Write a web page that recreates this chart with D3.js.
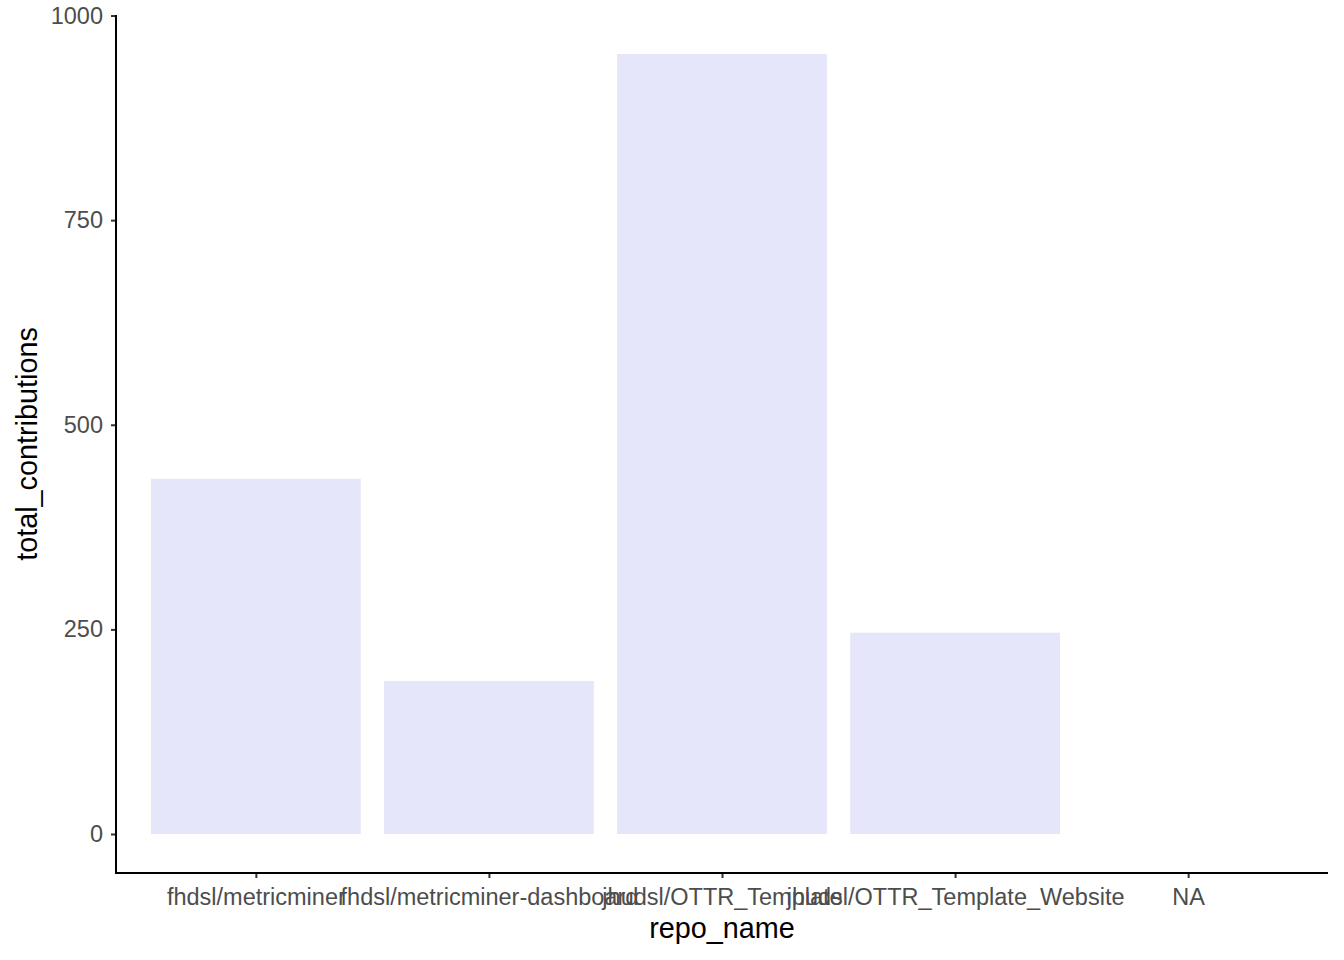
<!DOCTYPE html>
<html>
<head>
<meta charset="utf-8">
<script src="https://cdn.jsdelivr.net/npm/d3@7"></script>
<style>
  body { margin: 0; background: #fff; }
  svg { display: block; font-family: "Liberation Sans", Arial, sans-serif; }
</style>
</head>
<body>
<div id="chart"></div>
<script>
// repo names and their total contributions (NA has no value)
var repoNames = ["fhdsl/metricminer", "fhdsl/metricminer-dashboard", "jhudsl/OTTR_Template", "jhudsl/OTTR_Template_Website", "NA"];
var totalContributions = [434, 187, 953, 246, null];
var yTicks = [0, 250, 500, 750, 1000];

var width = 1344, height = 960;
var panel = {left: 116, right: 1328, top: 15, bottom: 873};

var svg = d3.select("#chart").append("svg")
    .attr("width", width)
    .attr("height", height);

// discrete x scale with ggplot-like 0.6 expansion
var n = repoNames.length;
var step = (panel.right - panel.left) / (n - 1 + 1.2);
var x = d3.scalePoint()
    .domain(repoNames)
    .range([panel.left + 0.6 * step, panel.right - 0.6 * step]);

// y scale with 5% expansion
var maxVal = d3.max(totalContributions);
var y = d3.scaleLinear()
    .domain([-0.05 * maxVal, maxVal * 1.05])
    .range([panel.bottom, panel.top]);

var data = repoNames.map(function(d, i) { return {name: d, value: totalContributions[i]}; });

// bars
svg.append("g").selectAll("rect")
    .data(data.filter(function(d) { return d.value != null; }))
    .enter().append("rect")
    .attr("x", function(d) { return x(d.name) - 0.45 * step; })
    .attr("width", 0.9 * step)
    .attr("y", function(d) { return y(d.value); })
    .attr("height", function(d) { return y(0) - y(d.value); })
    .attr("fill", "#E6E6FA");

// y axis
var yAxis = svg.append("g")
    .attr("transform", "translate(" + panel.left + ",0)")
    .call(d3.axisLeft(y).tickValues(yTicks).tickFormat(d3.format("d")).tickSize(5).tickPadding(8));
yAxis.attr("font-size", "23.5px").attr("font-family", "Liberation Sans, Arial, sans-serif");
yAxis.select(".domain").remove();
yAxis.selectAll(".tick line").attr("stroke", "#333").attr("stroke-width", 2);
yAxis.selectAll(".tick text").attr("fill", "#4D4D4D");

// x axis
var xAxis = svg.append("g")
    .attr("transform", "translate(0," + panel.bottom + ")")
    .call(d3.axisBottom(x).tickSize(5).tickPadding(10));
xAxis.attr("font-size", "23.5px").attr("font-family", "Liberation Sans, Arial, sans-serif");
xAxis.select(".domain").remove();
xAxis.selectAll(".tick line").attr("stroke", "#333").attr("stroke-width", 2);
xAxis.selectAll(".tick text").attr("fill", "#4D4D4D");

// axis lines
svg.append("line")
    .attr("x1", panel.left).attr("x2", panel.left)
    .attr("y1", panel.top).attr("y2", panel.bottom + 1)
    .attr("stroke", "#000").attr("stroke-width", 2);
svg.append("line")
    .attr("x1", panel.left - 1).attr("x2", panel.right)
    .attr("y1", panel.bottom).attr("y2", panel.bottom)
    .attr("stroke", "#000").attr("stroke-width", 2);

// axis titles
svg.append("text")
    .attr("x", (panel.left + panel.right) / 2)
    .attr("y", 938)
    .attr("text-anchor", "middle")
    .style("font-size", "28.8px")
    .text("repo_name");

svg.append("text")
    .attr("transform", "translate(37," + (panel.top + panel.bottom) / 2 + ") rotate(-90)")
    .attr("text-anchor", "middle")
    .style("font-size", "28.8px")
    .text("total_contributions");
</script>
</body>
</html>
